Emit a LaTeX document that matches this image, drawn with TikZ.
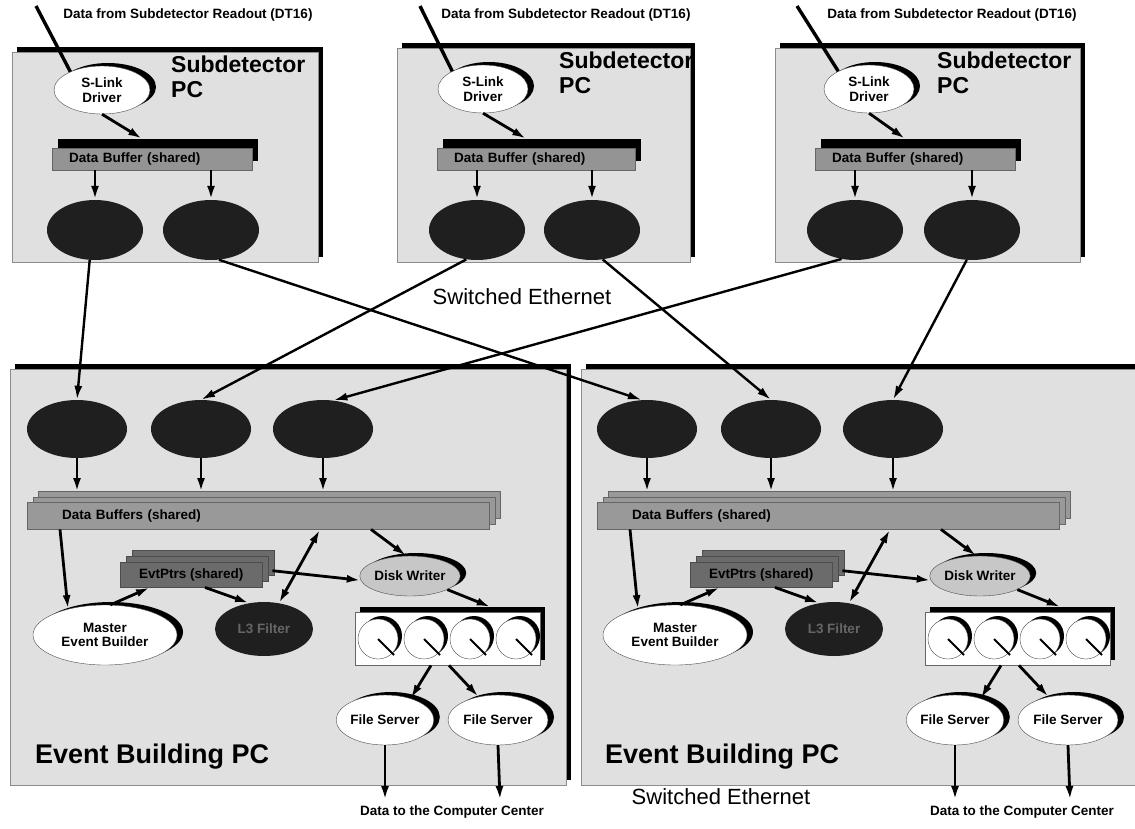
\documentclass[tikz,border=0pt]{standalone}
\usepackage{fontspec}
\setmainfont{Liberation Sans}
\usetikzlibrary{shapes.geometric,arrows.meta,shadows,calc}

\tikzset{
  lbl/.style={font=\fontsize{13.5}{14.5}\selectfont\bfseries, align=center},
  tip/.style={-{Latex[length=14pt,width=8pt]}},
  arr/.style={line width=2.8pt, tip},
  dbl/.style={line width=2.8pt, {Latex[length=14pt,width=8pt]}-{Latex[length=14pt,width=8pt]}},
  net/.style={line width=2.4pt, tip},
  feed/.style={line width=3.4pt},
  crescent/.style={general shadow={fill=black, shadow xshift=6pt, shadow yshift=3pt}},
  proc/.style={ellipse, draw=black!70, thin, fill=white, crescent, inner sep=0pt, lbl},
  darkproc/.style={ellipse, fill=black!88, inner sep=0pt, lbl, text=black!60},
  pcbox/.style={rectangle, draw=black!45, thin, fill=black!12, inner sep=0pt,
    general shadow={fill=black, shadow xshift=5pt, shadow yshift=5pt}},
  pctitle/.style={font=\fontsize{23}{25}\selectfont\bfseries, align=left, inner sep=0pt},
  ebtitle/.style={font=\fontsize{27}{30}\selectfont\bfseries, inner sep=0pt},
  ether/.style={font=\fontsize{22}{24}\selectfont},
  topbuf/.style={rectangle, draw=black!60, fill=black!42, inner sep=0pt, lbl,
    minimum height=22pt, align=left,
    general shadow={fill=black, shadow xshift=6pt, shadow yshift=9pt}},
  stackbuf/.style={rectangle, draw=black!60, fill=black!40, inner sep=0pt, lbl, align=left,
    general shadow={shadow xshift=11pt, shadow yshift=11pt, fill=black!40, draw=black!60},
    general shadow={shadow xshift=5.5pt, shadow yshift=5.5pt, fill=black!40, draw=black!60}},
  stackevt/.style={rectangle, draw=black!70, fill=black!58, inner sep=0pt, lbl,
    general shadow={shadow xshift=12pt, shadow yshift=12pt, fill=black!58, draw=black!70},
    general shadow={shadow xshift=6pt, shadow yshift=6pt, fill=black!58, draw=black!70}},
  diskbox/.style={rectangle, draw=black!60, fill=white, inner sep=0pt,
    general shadow={fill=black, shadow xshift=5pt, shadow yshift=5pt}},
  disk/.style={circle, draw=black!70, fill=white, minimum size=40pt, inner sep=0pt,
    general shadow={fill=black, shadow xshift=4pt, shadow yshift=3pt}},
}

% Contents of one event building PC (node names get the scope's prefix)
\newcommand{\ebparts}{%
  \node[darkproc, minimum width=100pt, minimum height=58pt] (e1a) at (77,429) {};
  \node[darkproc, minimum width=100pt, minimum height=58pt] (e1b) at (201,429) {};
  \node[darkproc, minimum width=100pt, minimum height=58pt] (e1c) at (323,429) {};
  \node[stackbuf, minimum width=462pt, minimum height=27pt, text width=392pt,
        anchor=north west] (buf) at (27,502) {Data Buffers (shared)};
  \node[stackevt, minimum width=142pt, minimum height=25pt, anchor=north west]
        (evt) at (120,562) {EvtPtrs (shared)};
  \node[proc, fill=black!22, minimum width=88pt, minimum height=40pt] (dw) at (410,576) {Disk Writer};
  \node[proc, minimum width=144pt, minimum height=60pt] (meb) at (105,635) {Master\\Event Builder};
  \node[darkproc, minimum width=98pt, minimum height=54pt] (flt) at (264,629) {L3 Filter};
  \node[diskbox, minimum width=185pt, minimum height=53pt, anchor=north west] (da) at (355,612) {};
  \foreach \i/\x in {1/378,2/424,3/470,4/516} {
    \node[disk] (dk\i) at (\x,639) {};
    \draw[line width=1.8pt] (dk\i.center) -- ++(16,16);
  }
  \node[proc, minimum width=96pt, minimum height=50pt] (fs1) at (385,720) {File Server};
  \node[proc, minimum width=100pt, minimum height=50pt] (fs2) at (498,720) {File Server};
  \coordinate (o1) at (385,800);
  \coordinate (o2) at (500,800);
  \node[lbl] (dst) at (452,812) {Data to the Computer Center};
  \node[ebtitle, anchor=west] (ebt) at (35,757) {Event Building PC};
  % connectors inside the PC
  \foreach \e in {e1a,e1b,e1c}
    \draw[arr] (\e.south) -- ($(\e.south |- buf.north)+(0,-10)$);
  \draw[arr] ($(buf.south west)+(33,0)$) -- (meb.145);
  \draw[arr] (meb.80) -- ($(evt.south west)+(30,0)$);
  \draw[arr] ($(evt.south west)+(85,0)$) -- (flt.120);
  \draw[dbl] (flt.60) -- ($(buf.south west)+(293,0)$);
  \draw[arr] ($(evt.east)+(10,-4)$) -- (dw.185);
  \draw[arr] ($(buf.south west)+(344,0)$) -- (dw.100);
  \draw[arr] (dw.-20) -- ($(da.north)+(43,-5)$);
  \draw[arr] ($(da.south west)+(76,0)$) -- (fs1.40);
  \draw[arr] ($(da.south west)+(94,0)$) -- (fs2.130);
  \draw[arr] (fs1.south) -- (o1);
  \draw[arr] (fs2.south) -- (o2);
}

\begin{document}
\begin{tikzpicture}[x=1pt, y=-1pt]
\useasboundingbox (0,0) rectangle (1135,828);
\clip (0,0) rectangle (1135,828);
\fill[white] (0,0) rectangle (1135,828);

% ---------- PC frames ----------
\node[pcbox, minimum width=306pt, minimum height=210pt, anchor=north west] (sd1) at (12,52) {};
\node[pcbox, minimum width=293pt, minimum height=214pt, anchor=north west] (sd2) at (397,48) {};
\node[pcbox, minimum width=305pt, minimum height=214pt, anchor=north west] (sd3) at (775,48) {};
\node[pcbox, minimum width=556pt, minimum height=416pt, anchor=north west] (eb1) at (10,369) {};
\node[pcbox, minimum width=600pt, minimum height=416pt, anchor=north west] (eb2) at (581,369) {};

% ---------- Subdetector PCs ----------
\node[pctitle, anchor=north west] (sd1t) at (171,56) {Subdetector\\PC};
\node[pctitle, anchor=north west] (sd2t) at (559,52) {Subdetector\\PC};
\node[pctitle, anchor=north west] (sd3t) at (937,52) {Subdetector\\PC};

\node[lbl] (src1) at (188,15) {Data from Subdetector Readout (DT16)};
\node[lbl] (src2) at (566,15) {Data from Subdetector Readout (DT16)};
\node[lbl] (src3) at (952,15) {Data from Subdetector Readout (DT16)};
\coordinate (f1) at (36,6);
\coordinate (f2) at (420,6);
\coordinate (f3) at (797,6);

\node[proc, minimum width=96pt, minimum height=48pt] (sl1) at (102,90) {S-Link\\Driver};
\node[proc, minimum width=90pt, minimum height=48pt] (sl2) at (483,89) {S-Link\\Driver};
\node[proc, minimum width=90pt, minimum height=48pt] (sl3) at (869,89) {S-Link\\Driver};

\node[topbuf, minimum width=200pt, text width=166pt, anchor=west] (db1) at (52,159) {Data Buffer (shared)};
\node[topbuf, minimum width=198pt, text width=164pt, anchor=west] (db2) at (437,159) {Data Buffer (shared)};
\node[topbuf, minimum width=200pt, text width=166pt, anchor=west] (db3) at (815,159) {Data Buffer (shared)};

\node[darkproc, minimum width=96pt, minimum height=60pt] (t1a) at (95,230) {};
\node[darkproc, minimum width=96pt, minimum height=60pt] (t1b) at (211,230) {};
\node[darkproc, minimum width=96pt, minimum height=60pt] (t2a) at (477,230) {};
\node[darkproc, minimum width=96pt, minimum height=60pt] (t2b) at (592,230) {};
\node[darkproc, minimum width=96pt, minimum height=60pt] (t3a) at (855,230) {};
\node[darkproc, minimum width=96pt, minimum height=60pt] (t3b) at (972,230) {};

\foreach \k in {1,2,3} {
  \draw[feed] (f\k) -- (sl\k.150);
  \draw[arr] (sl\k.south) -- ([xshift=-10pt,yshift=9pt]db\k.north);
  \draw[arr] (db\k.south -| t\k a.north) -- (t\k a.north);
  \draw[arr] (db\k.south -| t\k b.north) -- (t\k b.north);
}

% ---------- Event building PCs ----------
\begin{scope}[name prefix=L-]
  \ebparts
\end{scope}
\begin{scope}[shift={(570,0)}, name prefix=R-]
  \ebparts
\end{scope}

% ---------- Switched Ethernet links ----------
\draw[net] (t1a.-100) -- (L-e1a.north);
\draw[net] (t2a.-110) -- (L-e1b.north);
\draw[net] (t3a.-115) -- (L-e1c.70);
\draw[net] (t1b.-75) -- (R-e1a.100);
\draw[net] (t2b.-70) -- (R-e1b.north);
\draw[net] (t3b.-100) -- (R-e1c.north);

\node[ether] (sw1) at (522,297) {Switched Ethernet};
\node[ether] (sw2) at (721,797) {Switched Ethernet};
\end{tikzpicture}
\end{document}
